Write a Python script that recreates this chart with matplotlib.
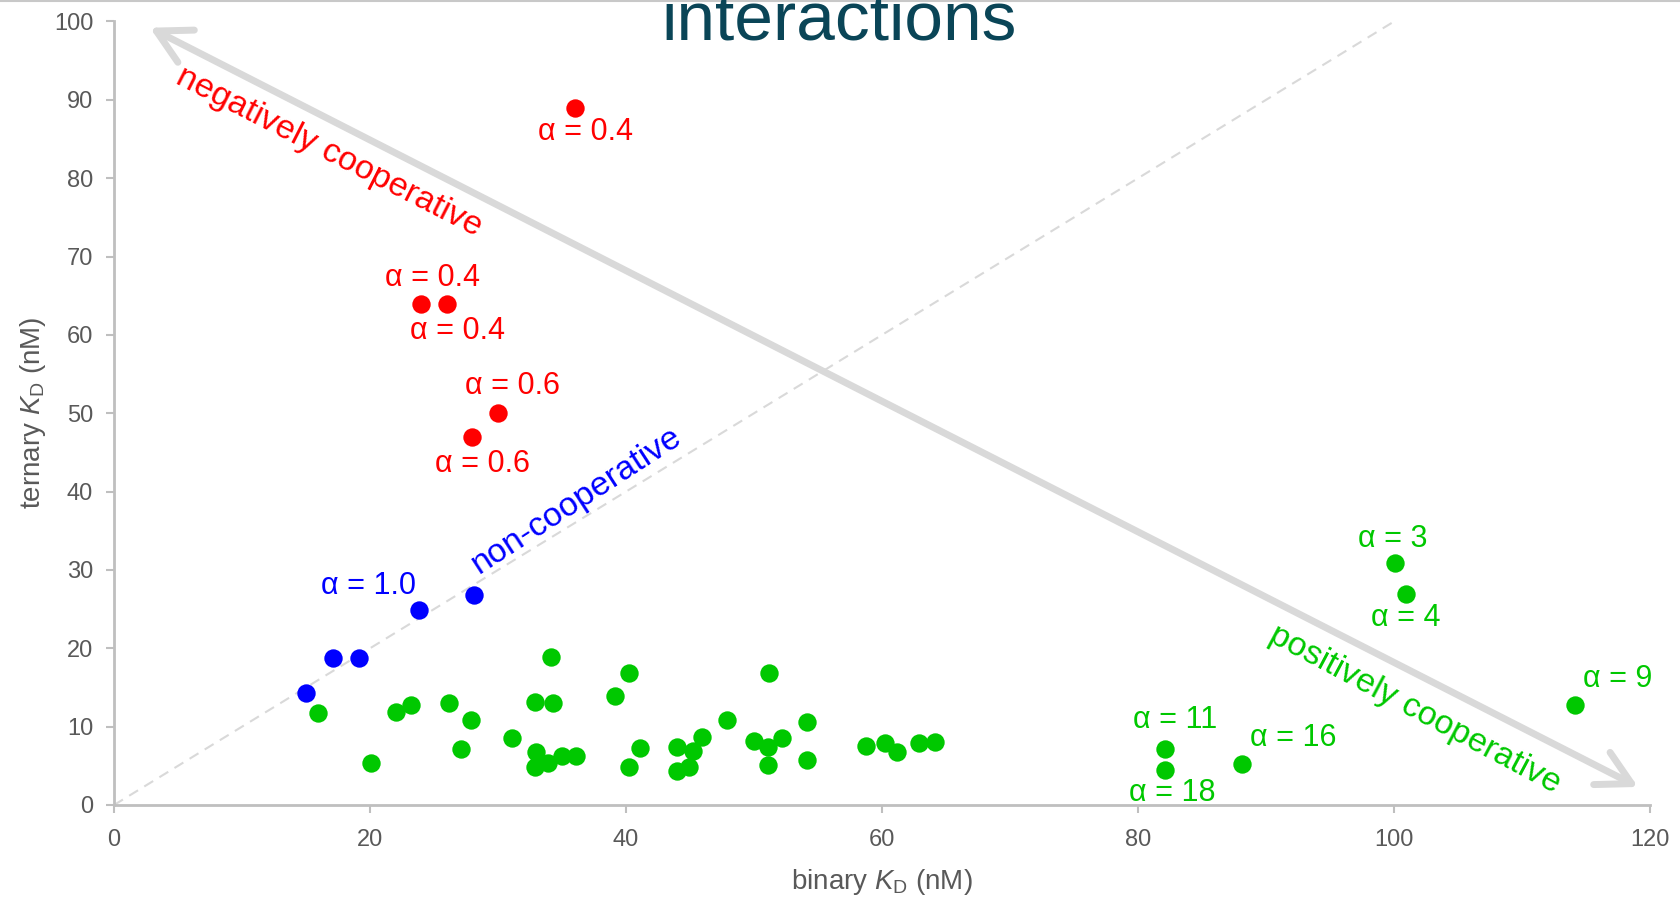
import matplotlib
matplotlib.use("Agg")
import matplotlib.pyplot as plt
from matplotlib.lines import Line2D

plt.rcParams['font.family'] = ['Liberation Sans', 'DejaVu Sans']
plt.rcParams['mathtext.fontset'] = 'custom'
plt.rcParams['mathtext.rm'] = 'Liberation Sans'
plt.rcParams['mathtext.it'] = 'Liberation Sans:italic'

# data
red_x = [36, 24, 26, 30, 28]
red_y = [89, 64, 64, 50, 47]

blue_x = [15.0, 17.1, 19.1, 23.8, 28.1]
blue_y = [14.3, 18.8, 18.8, 24.9, 26.8]

green_x = [15.9, 20.1, 22.0, 23.2, 26.2, 27.9, 27.1, 31.1, 32.9, 34.3,
           34.1, 33.0, 32.9, 33.9, 35.0, 36.1, 39.1, 40.2, 40.2, 41.1,
           44.0, 44.0, 44.9, 45.2, 45.9, 47.9, 50.0, 51.2, 51.1, 51.1,
           52.2, 54.1, 54.1, 58.75, 60.2, 61.2, 62.9, 64.1,
           82.1, 82.1, 88.1, 100.1, 100.9, 114.1]
green_y = [11.7, 5.4, 11.9, 12.8, 13.0, 10.8, 7.1, 8.5, 13.1, 13.0,
           18.9, 6.7, 4.9, 5.3, 6.2, 6.3, 13.9, 16.9, 4.9, 7.3,
           7.4, 4.3, 4.9, 6.9, 8.7, 10.9, 8.2, 16.8, 7.4, 5.1,
           8.5, 10.6, 5.8, 7.5, 7.9, 6.7, 7.9, 8.0,
           7.1, 4.4, 5.2, 30.9, 26.9, 12.7]

RED = '#ff0000'
BLUE = '#0000ff'
GREEN = '#00c800'

alpha_labels = [
    ('α = 0.4', 36.8, 85.9, RED),
    ('α = 0.4', 24.9, 67.3, RED),
    ('α = 0.4', 26.8, 60.5, RED),
    ('α = 0.6', 31.1, 53.5, RED),
    ('α = 0.6', 28.8, 43.5, RED),
    ('α = 1.0', 19.9, 28.0, BLUE),
    ('α = 3', 99.9, 33.9, GREEN),
    ('α = 4', 100.9, 23.9, GREEN),
    ('α = 9', 117.5, 16.1, GREEN),
    ('α = 11', 82.9, 10.8, GREEN),
    ('α = 16', 92.1, 8.5, GREEN),
    ('α = 18', 82.7, 1.5, GREEN),
]

region_labels = [
    ('negatively cooperative', 16.8, 83.3, -27, RED),
    ('non-cooperative', 36.1, 38.9, 33, BLUE),
    ('positively cooperative', 101.6, 12.2, -28, GREEN),
]

fig = plt.figure(figsize=(16.8, 8.98), dpi=100)
ax = fig.add_axes([0.0679, 0.1036, 0.9143, 0.8725])

ax.set_xlim(0, 120)
ax.set_ylim(0, 100)
ax.set_xticks(range(0, 121, 20))
ax.set_yticks(range(0, 101, 10))

for s in ['top', 'right']:
    ax.spines[s].set_visible(False)
for s in ['left', 'bottom']:
    ax.spines[s].set_color('#bfbfbf')
    ax.spines[s].set_linewidth(2)
ax.tick_params(colors='#bfbfbf', labelcolor='#595959', labelsize=17,
               width=1.5, length=6)
ax.tick_params(axis='x', pad=11)
ax.tick_params(axis='y', pad=9)

# identity line
ax.plot([0, 100], [0, 100], color='#d9d9d9', lw=1.5, dashes=(5, 3.5), zorder=1)

# double-headed cooperativity arrow
ax.annotate('', xy=(119.06, 2.3), xytext=(2.8, 99.2),
            arrowprops=dict(arrowstyle='<->,head_length=1.2,head_width=0.65',
                            lw=5, color='#d9d9d9', mutation_scale=20,
                            shrinkA=0, shrinkB=0),
            annotation_clip=False, zorder=1)

ax.scatter(green_x, green_y, s=175, color=GREEN, zorder=3, linewidths=0)
ax.scatter(blue_x, blue_y, s=175, color=BLUE, zorder=3, linewidths=0)
ax.scatter(red_x, red_y, s=175, color=RED, zorder=3, linewidths=0)

for txt, x, y, c in alpha_labels:
    ax.text(x, y, txt, color=c, fontsize=22, ha='center', va='center',
            zorder=4, clip_on=False)

for txt, x, y, rot, c in region_labels:
    ax.text(x, y, txt, color=c, fontsize=24.5, ha='center', va='center',
            rotation=rot, rotation_mode='anchor', zorder=4)

ax.set_xlabel(r'binary $K_\mathrm{D}$ (nM)', fontsize=20, color='#595959',
              labelpad=12)
ax.set_ylabel(r'ternary $K_\mathrm{D}$ (nM)', fontsize=20, color='#595959',
              labelpad=4)

# cropped slide title
fig.text(0.4995, 1 - 39 / 898, 'interactions', fontsize=50, color='#0a4557',
         ha='center', va='baseline')
fig.add_artist(Line2D([0, 1], [0.999, 0.999], color='#c8c8c8', lw=1.5))

fig.savefig('out.png', dpi=100)
